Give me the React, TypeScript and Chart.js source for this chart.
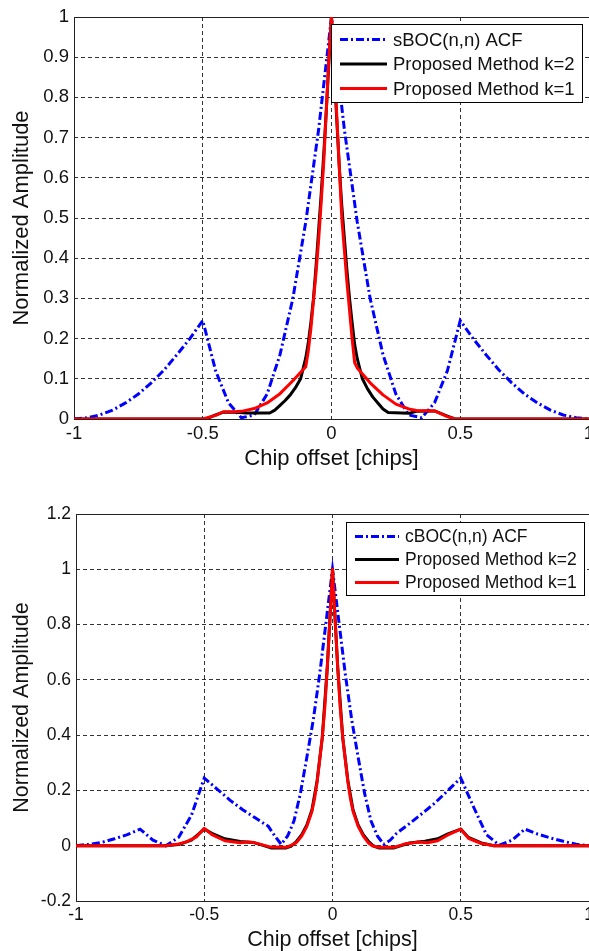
import React, { useEffect, useRef } from "react";
import { Chart, registerables } from "chart.js";

Chart.register(...registerables);

// ---------------- Top chart data (sBOC) ----------------
const topAcfX = [-1, -0.95, -0.9, -0.85, -0.8, -0.75, -0.7, -0.65, -0.6, -0.55, -0.5, -0.45, -0.4, -0.35, -0.3, -0.25, -0.2, -0.15, -0.1, -0.05, 0, 0.05, 0.1, 0.15, 0.2, 0.25, 0.3, 0.35, 0.4, 0.45, 0.5, 0.55, 0.6, 0.65, 0.7, 0.75, 0.8, 0.85, 0.9, 0.95, 1];
const topAcfY = [0, 0.003, 0.01, 0.022, 0.04, 0.062, 0.09, 0.122, 0.16, 0.2, 0.245, 0.12, 0.04, 0.003, 0.01, 0.062, 0.16, 0.3, 0.49, 0.72, 1, 0.72, 0.49, 0.3, 0.16, 0.062, 0.01, 0.003, 0.04, 0.12, 0.245, 0.2, 0.16, 0.122, 0.09, 0.062, 0.04, 0.022, 0.01, 0.003, 0];

const topK2X = [-1, -0.5, -0.48, -0.45, -0.42, -0.37, -0.33, -0.24, -0.22, -0.2, -0.18, -0.16, -0.14, -0.12, -0.1, -0.09, -0.08, -0.07, -0.06, -0.05, -0.04, -0.03, -0.02, -0.01, 0, 0.01, 0.02, 0.03, 0.04, 0.05, 0.06, 0.07, 0.08, 0.09, 0.1, 0.12, 0.14, 0.16, 0.18, 0.2, 0.22, 0.3, 0.33, 0.4, 0.45, 0.48, 1];
const topK2Y = [0, 0, 0.002, 0.01, 0.017, 0.017, 0.015, 0.015, 0.022, 0.034, 0.046, 0.06, 0.078, 0.1, 0.152, 0.19, 0.24, 0.3, 0.38, 0.47, 0.56, 0.66, 0.77, 0.89, 1, 0.88, 0.75, 0.63, 0.53, 0.45, 0.37, 0.3, 0.24, 0.185, 0.15, 0.1, 0.075, 0.055, 0.04, 0.025, 0.016, 0.014, 0.019, 0.02, 0.007, 0, 0];

const topK1X = [-1, -0.5, -0.45, -0.42, -0.38, -0.35, -0.3, -0.25, -0.2, -0.15, -0.1, -0.09, -0.08, -0.07, -0.06, -0.05, -0.04, -0.03, -0.02, -0.01, 0, 0.01, 0.02, 0.03, 0.04, 0.05, 0.06, 0.07, 0.08, 0.09, 0.1, 0.15, 0.2, 0.25, 0.3, 0.33, 0.4, 0.45, 0.48, 1];
const topK1Y = [0, 0, 0.009, 0.018, 0.018, 0.019, 0.026, 0.04, 0.063, 0.095, 0.13, 0.17, 0.225, 0.295, 0.365, 0.445, 0.54, 0.64, 0.77, 0.9, 1, 0.89, 0.76, 0.63, 0.5, 0.42, 0.34, 0.27, 0.2, 0.14, 0.127, 0.09, 0.06, 0.037, 0.025, 0.021, 0.02, 0.006, 0, 0];

// ---------------- Bottom chart data (cBOC) ----------------
const botAcfX = [-1, -0.95, -0.9, -0.85, -0.8, -0.75, -0.7, -0.65, -0.6, -0.55, -0.5, -0.45, -0.4, -0.35, -0.3, -0.25, -0.225, -0.2, -0.175, -0.15, -0.125, -0.1, -0.075, -0.05, -0.025, 0, 0.025, 0.05, 0.075, 0.1, 0.125, 0.15, 0.175, 0.2, 0.225, 0.25, 0.3, 0.35, 0.4, 0.45, 0.5, 0.55, 0.6, 0.65, 0.7, 0.75, 0.8, 0.85, 0.9, 0.95, 1];
const botAcfY = [0, 0.005, 0.012, 0.025, 0.04, 0.06, 0.02, 0, 0.03, 0.11, 0.245, 0.205, 0.165, 0.13, 0.1, 0.07, 0.035, 0.005, 0.035, 0.09, 0.19, 0.32, 0.455, 0.62, 0.81, 1, 0.81, 0.62, 0.455, 0.32, 0.19, 0.09, 0.035, 0.005, 0.02, 0.045, 0.08, 0.117, 0.155, 0.2, 0.245, 0.14, 0.04, 0.002, 0.02, 0.06, 0.042, 0.028, 0.016, 0.005, 0];

const botK2X = [-1, -0.65, -0.6, -0.55, -0.5, -0.47, -0.42, -0.36, -0.31, -0.28, -0.24, -0.18, -0.16, -0.14, -0.12, -0.1, -0.08, -0.06, -0.04, -0.02, 0, 0.02, 0.04, 0.06, 0.08, 0.1, 0.12, 0.14, 0.16, 0.18, 0.24, 0.3, 0.36, 0.41, 0.45, 0.5, 0.53, 0.58, 0.63, 1];
const botK2Y = [0, 0, 0.004, 0.02, 0.06, 0.045, 0.025, 0.015, 0.012, 0.004, -0.008, -0.008, -0.001, 0.016, 0.04, 0.075, 0.13, 0.235, 0.39, 0.65, 1, 0.65, 0.39, 0.235, 0.13, 0.075, 0.04, 0.016, -0.001, -0.008, -0.008, 0.01, 0.016, 0.025, 0.043, 0.06, 0.03, 0.01, 0, 0];

const botK1X = [-1, -0.65, -0.6, -0.57, -0.53, -0.5, -0.47, -0.42, -0.36, -0.33, -0.31, -0.28, -0.24, -0.18, -0.16, -0.14, -0.12, -0.1, -0.08, -0.07, -0.06, -0.05, -0.04, -0.03, -0.02, -0.01, 0, 0.01, 0.02, 0.03, 0.04, 0.05, 0.06, 0.07, 0.08, 0.1, 0.12, 0.14, 0.155, 0.18, 0.24, 0.28, 0.31, 0.33, 0.37, 0.41, 0.45, 0.5, 0.53, 0.58, 0.63, 1];
const botK1Y = [0, 0, 0.006, 0.014, 0.032, 0.063, 0.04, 0.018, 0.011, 0.013, 0.012, 0.005, -0.005, -0.006, 0.002, 0.012, 0.035, 0.07, 0.125, 0.17, 0.23, 0.31, 0.39, 0.5, 0.65, 0.82, 1, 0.82, 0.65, 0.5, 0.39, 0.31, 0.23, 0.17, 0.125, 0.07, 0.035, 0.01, 0, -0.006, -0.006, 0.006, 0.01, 0.013, 0.011, 0.018, 0.039, 0.06, 0.027, 0.008, 0, 0];

// ---------------- Ticks & labels ----------------
const xTickValues = [-1, -0.5, 0, 0.5, 1];
const xTickLabels = ["-1", "-0.5", "0", "0.5", "1"];
const topYTickValues = [0, 0.1, 0.2, 0.3, 0.4, 0.5, 0.6, 0.7, 0.8, 0.9, 1];
const topYTickLabels = ["0", "0.1", "0.2", "0.3", "0.4", "0.5", "0.6", "0.7", "0.8", "0.9", "1"];
const botYTickValues = [-0.2, 0, 0.2, 0.4, 0.6, 0.8, 1, 1.2];
const botYTickLabels = ["-0.2", "0", "0.2", "0.4", "0.6", "0.8", "1", "1.2"];

const topSeriesLabels = ["sBOC(n,n) ACF", "Proposed Method k=2", "Proposed Method k=1"];
const botSeriesLabels = ["cBOC(n,n) ACF", "Proposed Method k=2", "Proposed Method k=1"];
const xTitle = "Chip offset [chips]";
const yTitle = "Normalized Amplitude";

const FONT = '"Liberation Sans", Arial, Helvetica, sans-serif';

const pts = (xs: number[], ys: number[]) => xs.map((x, i) => ({ x, y: ys[i] }));

const boxPlugin = {
  id: "axesBox",
  beforeDatasetsDraw(chart: any) {
    const { ctx, chartArea: a } = chart;
    ctx.save();
    ctx.strokeStyle = "#222";
    ctx.lineWidth = 1;
    ctx.setLineDash([]);
    ctx.strokeRect(Math.round(a.left) + 0.5, Math.round(a.top) + 0.5, Math.round(a.right - a.left), Math.round(a.bottom - a.top));
    ctx.restore();
  },
};

const legendBoxPlugin = {
  id: "legendBox",
  afterDraw(chart: any, _args: any, o: any) {
    const { ctx, chartArea: a } = chart;
    const x0 = Math.round(a.right - o.right - o.width);
    const y0 = Math.round(a.top + o.top);
    ctx.save();
    ctx.fillStyle = "#fff";
    ctx.fillRect(x0, y0, o.width, o.height);
    ctx.strokeStyle = "#000";
    ctx.lineWidth = 1;
    ctx.setLineDash([]);
    ctx.strokeRect(x0 + 0.5, y0 + 0.5, o.width - 1, o.height - 1);
    chart.data.datasets.forEach((ds: any, i: number) => {
      const y = y0 + o.firstRow + i * o.rowGap;
      ctx.beginPath();
      ctx.setLineDash(ds.borderDash || []);
      ctx.strokeStyle = ds.borderColor;
      ctx.lineWidth = ds.borderWidth;
      ctx.moveTo(x0 + o.lineStart, y);
      ctx.lineTo(x0 + o.lineStart + o.lineLen, y);
      ctx.stroke();
      ctx.setLineDash([]);
      ctx.fillStyle = "#111";
      ctx.font = `${o.fontSize}px ${FONT}`;
      ctx.textBaseline = "middle";
      ctx.textAlign = "left";
      ctx.fillText(ds.label, x0 + o.textStart, y + 1);
    });
    ctx.restore();
  },
};

type Cfg = {
  acf: { x: number; y: number }[];
  k2: { x: number; y: number }[];
  k1: { x: number; y: number }[];
  labels: string[];
  yMin: number;
  yMax: number;
  yTicks: number[];
  yLabels: string[];
  yAxisWidth: number;
  xAxisHeight: number;
  padTop: number;
  tickSize: number;
  titleSize: number;
  legend: any;
};

function makeConfig(c: Cfg): any {
  return {
    type: "line",
    data: {
      datasets: [
        {
          label: c.labels[0],
          data: c.acf,
          borderColor: "#0000ff",
          borderWidth: 3,
          borderDash: [8, 3, 2, 3],
          pointRadius: 0,
          tension: 0,
          fill: false,
          order: 3,
        },
        {
          label: c.labels[1],
          data: c.k2,
          borderColor: "#000000",
          borderWidth: 3,
          pointRadius: 0,
          tension: 0,
          fill: false,
          borderJoinStyle: "round",
          order: 2,
        },
        {
          label: c.labels[2],
          data: c.k1,
          borderColor: "#ff0000",
          borderWidth: 3,
          pointRadius: 0,
          tension: 0,
          fill: false,
          borderJoinStyle: "round",
          order: 1,
        },
      ],
    },
    options: {
      responsive: false,
      animation: false,
      devicePixelRatio: 1,
      layout: { padding: { top: c.padTop, right: 10, left: 0, bottom: 0 } },
      plugins: {
        legend: { display: false },
        tooltip: { enabled: false },
        legendBox: c.legend,
      },
      scales: {
        x: {
          type: "linear",
          min: -1,
          max: 1,
          afterBuildTicks: (s: any) => {
            s.ticks = xTickValues.map((v) => ({ value: v }));
          },
          afterFit: (s: any) => {
            s.height = c.xAxisHeight;
          },
          ticks: {
            callback: (_v: any, i: number) => xTickLabels[i],
            font: { family: FONT, size: c.tickSize },
            color: "#111",
            padding: 4,
            maxRotation: 0,
            autoSkip: false,
          },
          grid: { color: "#333", lineWidth: 1, drawTicks: false },
          border: { display: false, dash: [4, 3] },
          title: {
            display: true,
            text: xTitle,
            font: { family: FONT, size: c.titleSize },
            color: "#111",
            padding: { top: 0, bottom: 0 },
          },
        },
        y: {
          type: "linear",
          min: c.yMin,
          max: c.yMax,
          afterBuildTicks: (s: any) => {
            s.ticks = c.yTicks.map((v) => ({ value: v }));
          },
          afterFit: (s: any) => {
            s.width = c.yAxisWidth;
          },
          ticks: {
            callback: (_v: any, i: number) => c.yLabels[i],
            font: { family: FONT, size: c.tickSize },
            color: "#111",
            padding: 5,
            autoSkip: false,
          },
          grid: { color: "#333", lineWidth: 1, drawTicks: false },
          border: { display: false, dash: [4, 3] },
          title: {
            display: true,
            text: yTitle,
            font: { family: FONT, size: c.titleSize },
            color: "#111",
            padding: { top: 9, bottom: 0 },
          },
        },
      },
    },
    plugins: [boxPlugin, legendBoxPlugin],
  };
}

function ChartCanvas({ cfg, width, height }: { cfg: Cfg; width: number; height: number }) {
  const ref = useRef<HTMLCanvasElement | null>(null);
  useEffect(() => {
    if (!ref.current) return;
    const chart = new Chart(ref.current, makeConfig(cfg));
    return () => chart.destroy();
  }, []);
  return <canvas ref={ref} width={width} height={height} style={{ display: "block", width, height }} />;
}

export default function App() {
  const topCfg: Cfg = {
    acf: pts(topAcfX, topAcfY),
    k2: pts(topK2X, topK2Y),
    k1: pts(topK1X, topK1Y),
    labels: topSeriesLabels,
    yMin: 0,
    yMax: 1,
    yTicks: topYTickValues,
    yLabels: topYTickLabels,
    yAxisWidth: 74,
    xAxisHeight: 53,
    padTop: 17,
    tickSize: 18.5,
    titleSize: 22,
    legend: { right: 6, top: 7, width: 252, height: 79, firstRow: 15.5, rowGap: 24.5, lineStart: 9, lineLen: 47, textStart: 62, fontSize: 18.5 },
  };
  const botCfg: Cfg = {
    acf: pts(botAcfX, botAcfY),
    k2: pts(botK2X, botK2Y),
    k1: pts(botK1X, botK1Y),
    labels: botSeriesLabels,
    yMin: -0.2,
    yMax: 1.2,
    yTicks: botYTickValues,
    yLabels: botYTickLabels,
    yAxisWidth: 76,
    xAxisHeight: 52,
    padTop: 24,
    tickSize: 17.5,
    titleSize: 21.5,
    legend: { right: 4, top: 8, width: 239, height: 74, firstRow: 14.5, rowGap: 23, lineStart: 9, lineLen: 44, textStart: 59, fontSize: 17.5 },
  };
  return (
    <div style={{ position: "absolute", left: 0, top: 0, width: 589, height: 951, overflow: "hidden", background: "#fff" }}>
      <div style={{ position: "absolute", left: 0, top: 0 }}>
        <ChartCanvas cfg={topCfg} width={599} height={472} />
      </div>
      <div style={{ position: "absolute", left: 0, top: 490 }}>
        <ChartCanvas cfg={botCfg} width={599} height={463} />
      </div>
    </div>
  );
}
